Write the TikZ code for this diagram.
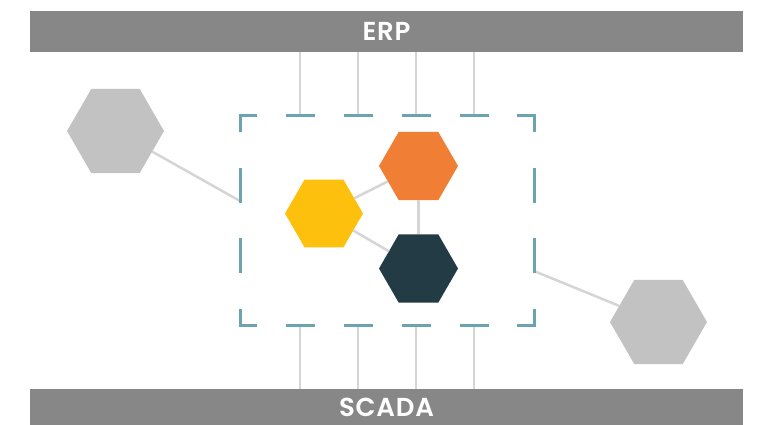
\documentclass[tikz,border=0pt]{standalone}
\usepackage{fontspec}
\setmainfont{Poppins}
\newfontfamily\barfont{Poppins}[UprightFont=* SemiBold,LetterSpace=3]
\usetikzlibrary{shapes.geometric}

\definecolor{barGray}{HTML}{878787}
\definecolor{hexGray}{HTML}{C2C2C2}
\definecolor{linkGray}{HTML}{D5D5D5}
\definecolor{frameTeal}{HTML}{6BA3AE}
\definecolor{hexOrange}{HTML}{F07E35}
\definecolor{hexYellow}{HTML}{FCC00D}
\definecolor{hexDark}{HTML}{223B44}

\begin{document}
\begin{tikzpicture}[x=1pt,y=-1pt,
    bar/.style={fill=barGray,text=white,font=\barfont\fontsize{26}{26}\selectfont,
        minimum width=713pt,inner sep=0pt,outer sep=0pt},
    hexa/.style={regular polygon,regular polygon sides=6,inner sep=0pt,outer sep=0pt},
    link/.style={draw=linkGray,line width=2.5pt},
    frame/.style={draw=frameTeal,line width=3pt}]
    \useasboundingbox (0,0) rectangle (763,425);
    % bars
    \node[bar,minimum height=41pt] (erp) at (386.5,31.5) {ERP};
    \node[bar,minimum height=37pt] (scada) at (386.5,407) {SCADA};
    % hexagons
    \node[hexa,fill=hexGray,minimum size=97pt] (left) at (115.5,131) {};
    \node[hexa,fill=hexGray,minimum size=97pt] (right) at (658.5,322) {};
    \node[hexa,fill=hexOrange,minimum size=79pt] (orange) at (418.5,166) {};
    \node[hexa,fill=hexYellow,minimum size=78pt] (yellow) at (324,213.5) {};
    \node[hexa,fill=hexDark,minimum size=79pt] (dark) at (418.5,268.5) {};
    % connectors
    \draw[link] (yellow) -- (orange);
    \draw[link] (yellow) -- (dark);
    \draw[link] (orange) -- (dark);
    \coordinate (inL) at (240,201);
    \coordinate (inR) at (534,271);
    \draw[link] (left) -- (inL);
    \draw[link] (inR) -- (right);
    \foreach \x in {300,358,416,474}
    {
        \coordinate (top\x) at (\x,116);
        \coordinate (bot\x) at (\x,325);
        \draw[link] (top\x |- erp.south) -- (top\x);
        \draw[link] (bot\x) -- (bot\x |- scada.north);
        \draw[frame] (\x-14.5,116) -- (\x+14.5,116);
        \draw[frame] (\x-14.5,325) -- (\x+14.5,325);
    }
    % dashed frame
    \foreach \y in {185.5,255.5}
    {
        \draw[frame] (240,\y-17.5) -- (240,\y+17.5);
        \draw[frame] (534,\y-17.5) -- (534,\y+17.5);
    }
    \draw[frame] (257,116) -- (240,116) -- (240,132);
    \draw[frame] (517,116) -- (534,116) -- (534,132);
    \draw[frame] (257,325) -- (240,325) -- (240,309);
    \draw[frame] (517,325) -- (534,325) -- (534,309);
\end{tikzpicture}
\end{document}
